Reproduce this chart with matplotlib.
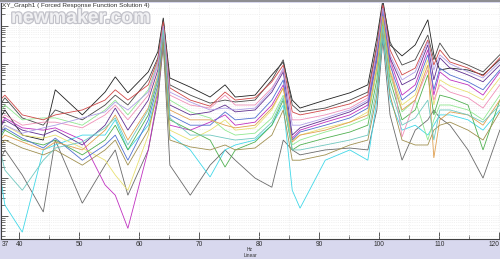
import numpy as np
import matplotlib
matplotlib.use("Agg")
import matplotlib.pyplot as plt
import matplotlib.patheffects as pe
from matplotlib.lines import Line2D
from matplotlib.ticker import LogLocator, NullFormatter, FixedLocator

# Frequency points (Hz)
freq_hz = [36.8, 37.6, 40.5, 44.0, 46.0, 50.5, 54.3, 56.0, 58.1, 61.5, 63.1, 64.0, 65.1,
           68.5, 71.8, 74.3, 76.0, 79.3, 82.1, 84.0, 85.5, 86.8, 91.0, 95.1, 98.1, 99.6,
           100.6, 101.8, 103.8, 106.0, 108.1, 109.1, 110.1, 111.8, 114.8, 117.3, 120.1]

# Response amplitudes, log10 units, one list per curve
resp_01 = [-2.42,-2.21,-2.87,-3.00,-1.68,-2.34,-1.74,-1.34,-1.76,-1.21,-0.68,0.21,-1.37,-1.61,-1.87,-1.55,-1.87,-1.82,-1.29,-0.95,-1.95,-2.16,-1.95,-1.76,-1.55,-0.32,0.68,-0.50,-0.79,-0.50,0.16,-0.76,-1.16,-1.11,-1.16,-1.29,-0.89]
resp_02 = [-2.08,-1.89,-2.42,-2.61,-2.21,-2.47,-2.08,-1.82,-2.08,-1.42,-0.84,0.16,-1.55,-1.82,-2.03,-1.95,-2.00,-1.95,-1.42,-0.89,-2.08,-2.26,-2.16,-1.95,-1.74,-0.50,0.61,-0.42,-1.03,-0.89,-0.24,-0.89,-0.45,-0.84,-1.03,-1.21,-0.76]
resp_03 = [-3.53,-3.26,-3.92,-4.89,-3.00,-4.66,-3.66,-3.26,-4.45,-3.26,-1.95,-0.50,-3.66,-4.45,-3.66,-3.26,-3.53,-4.00,-4.24,-3.00,-3.26,-3.39,-3.26,-3.21,-3.26,-2.21,-0.37,-2.34,-3.53,-2.74,-2.47,-2.21,-2.42,-2.61,-3.26,-4.00,-2.74]
resp_04 = [-2.61,-2.42,-2.68,-2.74,-2.68,-3.00,-4.18,-4.45,-5.32,-3.26,-1.82,-0.37,-2.61,-2.74,-2.53,-2.34,-2.61,-2.53,-2.08,-1.55,-2.95,-2.74,-2.53,-2.34,-2.08,-0.89,0.37,-0.89,-1.82,-1.55,-0.63,-1.82,-1.21,-1.42,-1.55,-1.82,-1.21]
resp_05 = [-3.92,-4.71,-5.42,-3.26,-3.13,-2.87,-2.87,-2.47,-3.26,-2.61,-1.68,-0.32,-2.87,-3.26,-3.97,-3.26,-3.13,-3.00,-2.61,-2.08,-4.32,-4.79,-3.53,-3.26,-3.53,-1.95,-0.24,-1.95,-2.74,-2.61,-2.87,-2.61,-2.34,-2.34,-2.47,-2.74,-2.21]
resp_06 = [-2.74,-2.61,-2.87,-2.95,-2.87,-3.21,-3.53,-3.92,-4.32,-2.87,-1.63,-0.26,-2.74,-3.00,-2.74,-2.47,-2.74,-2.68,-2.21,-1.63,-3.00,-2.87,-2.68,-2.53,-2.26,-1.03,0.29,-1.16,-2.08,-1.82,-0.89,-2.08,-1.42,-1.58,-1.74,-1.95,-1.37]
resp_07 = [-2.95,-2.74,-3.00,-3.13,-3.00,-3.39,-3.00,-2.61,-3.26,-2.34,-1.42,-0.16,-2.47,-2.74,-3.00,-3.71,-3.26,-3.05,-2.61,-1.95,-3.26,-3.13,-2.95,-2.79,-2.61,-1.42,0.11,-1.42,-2.47,-2.21,-1.29,-2.34,-1.82,-1.89,-2.08,-3.26,-1.95]
resp_08 = [-2.26,-2.08,-2.47,-2.42,-2.42,-2.61,-2.21,-1.95,-2.34,-1.68,-0.95,0.05,-1.95,-2.26,-2.42,-2.74,-2.87,-2.82,-2.42,-1.82,-3.13,-3.00,-2.79,-2.61,-2.42,-1.21,0.21,-1.29,-2.26,-1.95,-3.00,-2.47,-2.08,-2.08,-2.21,-2.47,-1.82]
resp_09 = [-2.47,-2.34,-2.61,-2.53,-2.53,-2.68,-2.34,-2.08,-2.47,-1.82,-1.03,0.03,-1.82,-2.08,-2.16,-1.82,-2.08,-2.08,-1.63,-1.16,-2.47,-2.47,-2.34,-2.16,-1.89,-0.63,0.53,-0.76,-2.92,-1.95,-1.16,-1.95,-1.55,-1.74,-1.89,-2.16,-1.55]
resp_10 = [-2.68,-2.47,-2.74,-2.87,-2.74,-3.13,-2.61,-2.16,-2.74,-1.95,-1.16,-0.05,-2.08,-2.34,-2.26,-2.08,-2.26,-2.21,-1.74,-1.21,-2.87,-2.68,-2.47,-2.26,-2.00,-0.76,0.45,-0.84,-1.55,-1.37,-0.50,-1.42,-0.84,-1.11,-1.29,-1.47,-1.03]
resp_11 = [-2.87,-2.68,-2.95,-3.21,-2.95,-3.53,-3.13,-2.87,-3.53,-2.47,-1.55,-0.21,-2.34,-2.61,-2.61,-2.26,-2.47,-2.42,-1.95,-1.42,-3.00,-2.79,-2.61,-2.42,-2.16,-0.89,0.37,-1.03,-1.95,-1.68,-0.76,-1.68,-1.11,-1.29,-1.47,-1.68,-1.16]
resp_12 = [-1.95,-1.82,-2.34,-2.47,-2.34,-2.21,-1.95,-1.68,-1.95,-1.55,-0.89,0.11,-1.63,-1.95,-2.11,-1.74,-1.95,-1.89,-1.47,-1.03,-2.26,-2.34,-2.21,-2.05,-1.82,-0.58,0.55,-0.63,-1.29,-1.11,-0.37,-1.03,-0.63,-0.95,-1.11,-1.32,-0.84]
resp_13 = [-3.00,-2.87,-3.05,-3.26,-3.05,-3.26,-2.74,-2.34,-3.00,-2.16,-1.29,-0.11,-2.21,-2.47,-2.47,-2.61,-2.68,-2.61,-2.16,-1.63,-3.05,-2.87,-2.74,-2.53,-2.34,-1.11,0.26,-1.21,-2.21,-1.95,-1.03,-3.47,-2.47,-2.26,-2.34,-2.61,-1.95]
resp_14 = [-3.13,-3.00,-3.21,-3.39,-3.26,-3.66,-3.26,-3.00,-3.66,-2.74,-1.74,-0.42,-3.00,-3.18,-3.26,-3.13,-3.26,-3.21,-2.87,-2.21,-3.53,-3.53,-3.39,-3.13,-3.00,-1.82,-0.11,-1.82,-3.00,-3.13,-3.13,-2.74,-2.61,-2.53,-2.74,-3.00,-2.26]
resp_15 = [-2.79,-2.61,-2.82,-2.68,-2.61,-2.42,-2.26,-2.00,-2.21,-1.74,-1.00,0.00,-1.74,-2.00,-2.21,-2.16,-2.21,-2.16,-1.68,-1.11,-2.61,-2.61,-2.42,-2.21,-1.95,-0.68,0.47,-0.76,-1.42,-1.21,-0.42,-1.16,-0.76,-1.00,-1.21,-1.37,-0.95]
resp_16 = [-3.26,-3.79,-4.32,-3.53,-3.21,-3.05,-2.68,-2.42,-3.13,-2.21,-1.37,-0.11,-2.42,-2.87,-2.87,-2.95,-3.00,-2.95,-2.53,-1.89,-3.26,-3.26,-3.13,-3.00,-2.87,-1.63,0.00,-1.63,-2.61,-2.42,-1.95,-3.00,-2.21,-2.21,-2.34,-2.53,-2.08]

curve_colors = ["#202020", "#484848", "#6a6a6a", "#c030c0", "#40d8e8", "#e8e070",
                "#50b050", "#90e890", "#f090b8", "#603090", "#5070d0", "#d04848",
                "#e0a050", "#a09050", "#b0a0e8", "#70c8c0"]

x_ticks = [37, 40, 50, 60, 70, 80, 90, 100, 110, 120]
x_tick_labels = ["37", "40", "50", "60", "70", "80", "90", "100", "110", "120"]
x_minor = [45, 55, 65, 75, 85, 95, 105, 115]

title_text = "XY_Graph1 ( Forced Response Function Solution 4)"
x_unit = "Hz"
x_scale = "Linear"

series = [resp_01, resp_02, resp_03, resp_04, resp_05, resp_06, resp_07, resp_08,
          resp_09, resp_10, resp_11, resp_12, resp_13, resp_14, resp_15, resp_16]

fig = plt.figure(figsize=(5.0, 2.59), dpi=100, facecolor="#d8d8ee")
ax = fig.add_axes([0.002, 20 / 259, 0.998, 236 / 259])
ax.set_facecolor("white")

for vals, col in zip(series, curve_colors):
    ax.plot(freq_hz, 10 ** np.asarray(vals), color=col, lw=0.6, solid_joinstyle="miter")

ax.set_yscale("log")
ax.set_ylim(10 ** -5.6, 10 ** 0.6)
ax.set_xlim(36.95, 120.13)

ax.yaxis.set_major_locator(LogLocator(base=10, numticks=20))
ax.yaxis.set_minor_locator(LogLocator(base=10, subs=np.arange(2, 10), numticks=100))
ax.yaxis.set_minor_formatter(NullFormatter())
ax.tick_params(axis="y", which="both", direction="in", labelleft=False, color="#404040")
ax.tick_params(axis="y", which="major", length=5, width=0.6)
ax.tick_params(axis="y", which="minor", length=3, width=0.5)

ax.xaxis.set_major_locator(FixedLocator(x_ticks))
ax.set_xticklabels(x_tick_labels, family="Liberation Sans")
ax.xaxis.set_minor_locator(FixedLocator(x_minor))
ax.tick_params(axis="x", which="both", direction="in", color="#404040", pad=1.5,
               labelsize=4.8, labelcolor="#303030")
ax.tick_params(axis="x", which="major", length=5, width=0.6)
ax.tick_params(axis="x", which="minor", length=3, width=0.5)
xl = ax.get_xticklabels()
xl[0].set_horizontalalignment("left")
xl[-1].set_horizontalalignment("right")

ax.grid(which="both", axis="y", color="#e6e6e6", ls=":", lw=0.5)
ax.grid(which="both", axis="x", color="#e6e6e6", ls=":", lw=0.5)
ax.set_axisbelow(True)

for s in ["top", "right"]:
    ax.spines[s].set_visible(False)
for s in ["left", "bottom"]:
    ax.spines[s].set_color("#404040")
    ax.spines[s].set_linewidth(0.8)

fig.add_artist(Line2D([0, 1], [0.997, 0.997], transform=fig.transFigure,
                      color="#808080", lw=1.2))
fig.text(0.004, 0.99, title_text, fontsize=4.6, family="Liberation Sans", va="top",
         ha="left", color="#303030")
fig.text(0.022, 0.962, "newmaker.com", fontsize=14, fontweight="bold",
         family="Liberation Sans", va="top", ha="left", color="#f4f4f6", alpha=0.95,
         path_effects=[pe.withStroke(linewidth=1.8, foreground="#c0c0c8")])
fig.text(0.5, 0.036, x_unit, fontsize=3.5, family="Liberation Sans", ha="center",
         va="center", color="#303030")
fig.text(0.5, 0.013, x_scale, fontsize=3.5, family="Liberation Sans", ha="center",
         va="center", color="#303030")

fig.savefig("out.png", dpi=100, facecolor=fig.get_facecolor())
